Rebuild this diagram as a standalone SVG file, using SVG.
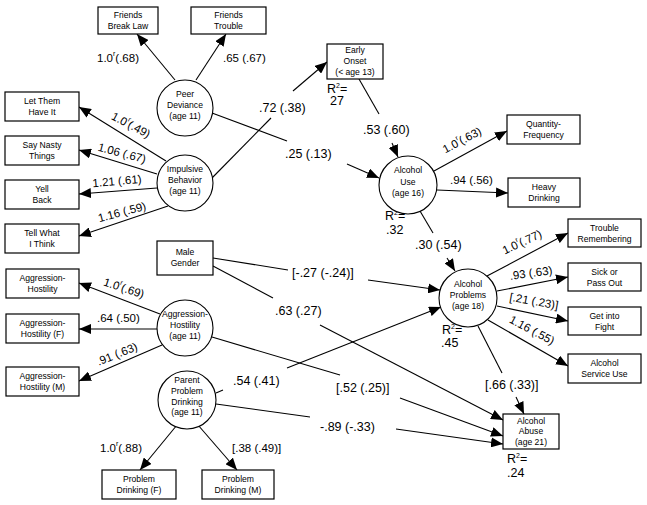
<svg xmlns="http://www.w3.org/2000/svg" width="647" height="505" viewBox="0 0 647 505">
<defs>
<style>
.box{fill:#fff;stroke:#000;stroke-width:1.2}
.lat{fill:#fff;stroke:#000;stroke-width:1.1}
.nt{font-family:"Liberation Sans",Arial,sans-serif;font-size:8.6px;text-anchor:middle;fill:#000}
.lb{font-family:"Liberation Sans",Arial,sans-serif;font-size:12.5px;fill:#000}
.ld{font-family:"Liberation Sans",Arial,sans-serif;font-size:11.5px;fill:#000}
.c{text-anchor:middle}
.cn path{fill:none;stroke:#000;stroke-width:1.1}
.cn path.a{marker-end:url(#ah)}
</style>
<marker id="ah" markerWidth="12" markerHeight="10" refX="12" refY="5" orient="auto" markerUnits="userSpaceOnUse">
<path d="M0,0 L12,5 L0,10 z" fill="#000"/>
</marker>
</defs>
<rect width="647" height="505" fill="#fff"/>

<g id="connectors" class="cn">
<path class="a" d="M175,80 L137,34"/>
<path class="a" d="M196,80 L226,34"/>
<path d="M212,113 L287,141"/>
<path class="a" d="M347,164 L379,178"/>
<path d="M212,178 L271,118"/>
<path class="a" d="M293,91 L327,62"/>
<path class="a" d="M166,161 L79,107"/>
<path class="a" d="M157,174 L79,150"/>
<path class="a" d="M157,188 L79,194"/>
<path class="a" d="M168,206 L79,236"/>
<path d="M359,79 L379,114"/>
<path class="a" d="M392,143 L398,157"/>
<path class="a" d="M434,171 L507,131"/>
<path class="a" d="M437,190 L508,193"/>
<path d="M420,211 L433,233"/>
<path class="a" d="M447,258 L455,271"/>
<path class="a" d="M487,276 L568,233"/>
<path class="a" d="M497,291 L568,277"/>
<path class="a" d="M497,306 L568,321"/>
<path class="a" d="M488,320 L568,366"/>
<path d="M478,326 L502,373"/>
<path class="a" d="M516,397 L524,414"/>
<path d="M213,258 L288,270"/>
<path class="a" d="M368,280 L440,290"/>
<path d="M213,266 L273,298"/>
<path class="a" d="M320,325 L503,420"/>
<path class="a" d="M160,314 L79,283"/>
<path class="a" d="M157,329 L79,329"/>
<path class="a" d="M162,345 L79,381"/>
<path d="M212,337 L340,375"/>
<path class="a" d="M400,398 L503,436"/>
<path d="M216,393 L223,390"/>
<path class="a" d="M287,368 L441,307"/>
<path d="M216,404 L310,417"/>
<path class="a" d="M396,429 L503,444"/>
<path class="a" d="M177,425 L140,470"/>
<path class="a" d="M198,425 L237,470"/>
</g>

<g id="labels">
<text class="ld" x="97" y="62">1.0<tspan font-size="7" dy="-6">r</tspan><tspan dy="6">(.68)</tspan></text>
<text class="ld" x="223" y="62">.65 (.67)</text>
<text class="ld c" transform="translate(131,125) rotate(28)" y="4">1.0<tspan font-size="7" dy="-6">r</tspan><tspan dy="6">(.49)</tspan></text>
<text class="ld c" transform="translate(122,153) rotate(15)" y="4">1.06 (.67)</text>
<text class="ld c" transform="translate(117,181) rotate(-5)" y="4">1.21 (.61)</text>
<text class="ld c" transform="translate(122,212) rotate(-15)" y="4">1.16 (.59)</text>
<text class="ld c" transform="translate(124,288) rotate(18)" y="4">1.0<tspan font-size="7" dy="-6">r</tspan><tspan dy="6">(.69)</tspan></text>
<text class="ld" x="97" y="322">.64 (.50)</text>
<text class="ld c" transform="translate(117,354) rotate(-22)" y="4">.91 (.63)</text>
<text class="ld" x="100" y="452">1.0<tspan font-size="7" dy="-6">r</tspan><tspan dy="6">(.88)</tspan></text>
<text class="ld" x="232" y="452">[.38 (.49)]</text>
<text class="ld c" transform="translate(462,140) rotate(-28)" y="4">1.0<tspan font-size="7" dy="-6">r</tspan><tspan dy="6">(.63)</tspan></text>
<text class="ld" x="450" y="184">.94 (.56)</text>
<text class="ld c" transform="translate(522,242) rotate(-25)" y="4">1.0<tspan font-size="7" dy="-6">r</tspan><tspan dy="6">(.77)</tspan></text>
<text class="ld c" transform="translate(531,273) rotate(-8)" y="4">.93 (.63)</text>
<text class="ld c" transform="translate(534,301) rotate(10)" y="4">[.21 (.23)]</text>
<text class="ld c" transform="translate(532,330) rotate(28)" y="4">1.16 (.55)</text>
<text class="lb" x="259" y="112">.72 (.38)</text>
<text class="lb" x="285" y="158">.25 (.13)</text>
<text class="lb" x="363" y="134">.53 (.60)</text>
<text class="lb" x="415" y="249">.30 (.54)</text>
<text class="lb" x="292" y="277">[-.27 (-.24)]</text>
<text class="lb" x="275" y="315">.63 (.27)</text>
<text class="lb" x="233" y="385">.54 (.41)</text>
<text class="lb" x="336" y="392">[.52 (.25)]</text>
<text class="lb" x="320" y="431">-.89 (-.33)</text>
<text class="lb" x="485" y="389">[.66 (.33)]</text>
<text class="lb" x="327" y="93">R<tspan font-size="7" dy="-5">2</tspan><tspan dy="5">=</tspan></text>
<text class="lb" x="330" y="105">27</text>
<text class="lb" x="385" y="220">R<tspan font-size="7" dy="-5">2</tspan><tspan dy="5">=</tspan></text>
<text class="lb" x="386" y="234">.32</text>
<text class="lb" x="442" y="334">R<tspan font-size="7" dy="-5">2</tspan><tspan dy="5">=</tspan></text>
<text class="lb" x="441" y="347">.45</text>
<text class="lb" x="507" y="463">R<tspan font-size="7" dy="-5">2</tspan><tspan dy="5">=</tspan></text>
<text class="lb" x="507" y="477">.24</text>
</g>

<g id="friends-break-law"><rect class="box" x="98" y="7" width="60" height="27"/><text class="nt" x="128" y="18">Friends</text><text class="nt" x="128" y="28.5">Break Law</text></g>
<g id="friends-trouble"><rect class="box" x="191" y="7" width="75" height="27"/><text class="nt" x="228.5" y="18">Friends</text><text class="nt" x="228.5" y="28.5">Trouble</text></g>
<g id="peer-deviance"><circle class="lat" cx="185" cy="108" r="28"/><text class="nt" x="185" y="97">Peer</text><text class="nt" x="185" y="108">Deviance</text><text class="nt" x="185" y="119">(age 11)</text></g>
<g id="let-them-have-it"><rect class="box" x="5" y="92" width="74" height="29"/><text class="nt" x="42" y="104">Let Them</text><text class="nt" x="42" y="115">Have It</text></g>
<g id="say-nasty-things"><rect class="box" x="5" y="136" width="74" height="29"/><text class="nt" x="42" y="148">Say Nasty</text><text class="nt" x="42" y="159">Things</text></g>
<g id="yell-back"><rect class="box" x="5" y="180" width="74" height="29"/><text class="nt" x="42" y="192">Yell</text><text class="nt" x="42" y="203">Back</text></g>
<g id="tell-what-i-think"><rect class="box" x="5" y="224" width="74" height="29"/><text class="nt" x="42" y="236">Tell What</text><text class="nt" x="42" y="247">I Think</text></g>
<g id="impulsive-behavior"><circle class="lat" cx="185" cy="183" r="28"/><text class="nt" x="185" y="172">Impulsive</text><text class="nt" x="185" y="183">Behavior</text><text class="nt" x="185" y="194">(age 11)</text></g>
<g id="early-onset"><rect class="box" x="327" y="44" width="56" height="35"/><text class="nt" x="355" y="53">Early</text><text class="nt" x="355" y="64">Onset</text><text class="nt" x="355" y="75">(&lt; age 13)</text></g>
<g id="alcohol-use"><circle class="lat" cx="408" cy="185" r="29"/><text class="nt" x="408" y="173">Alcohol</text><text class="nt" x="408" y="185">Use</text><text class="nt" x="408" y="196">(age 16)</text></g>
<g id="quantity-frequency"><rect class="box" x="507" y="115" width="73" height="29"/><text class="nt" x="543.5" y="127">Quantity-</text><text class="nt" x="543.5" y="138">Frequency</text></g>
<g id="heavy-drinking"><rect class="box" x="508" y="178" width="72" height="29"/><text class="nt" x="544" y="190">Heavy</text><text class="nt" x="544" y="201">Drinking</text></g>
<g id="male-gender"><rect class="box" x="157" y="241" width="56" height="34"/><text class="nt" x="185" y="255">Male</text><text class="nt" x="185" y="265.5">Gender</text></g>
<g id="alcohol-problems"><circle class="lat" cx="468" cy="298" r="29"/><text class="nt" x="468" y="287">Alcohol</text><text class="nt" x="468" y="298">Problems</text><text class="nt" x="468" y="309">(age 18)</text></g>
<g id="trouble-remembering"><rect class="box" x="568" y="219" width="73" height="28"/><text class="nt" x="604.5" y="230.5">Trouble</text><text class="nt" x="604.5" y="241.5">Remembering</text></g>
<g id="sick-or-pass-out"><rect class="box" x="568" y="263" width="73" height="28"/><text class="nt" x="604.5" y="274.5">Sick or</text><text class="nt" x="604.5" y="285.5">Pass Out</text></g>
<g id="get-into-fight"><rect class="box" x="568" y="307" width="73" height="28"/><text class="nt" x="604.5" y="318.5">Get into</text><text class="nt" x="604.5" y="329.5">Fight</text></g>
<g id="alcohol-service-use"><rect class="box" x="568" y="354" width="73" height="29"/><text class="nt" x="604.5" y="366">Alcohol</text><text class="nt" x="604.5" y="377">Service Use</text></g>
<g id="aggression-hostility-box"><rect class="box" x="6" y="269" width="73" height="29"/><text class="nt" x="42.5" y="281">Aggression-</text><text class="nt" x="42.5" y="292">Hostility</text></g>
<g id="aggression-hostility-f"><rect class="box" x="6" y="314" width="73" height="29"/><text class="nt" x="42.5" y="326">Aggression-</text><text class="nt" x="42.5" y="337">Hostility (F)</text></g>
<g id="aggression-hostility-m"><rect class="box" x="6" y="367" width="73" height="29"/><text class="nt" x="42.5" y="379">Aggression-</text><text class="nt" x="42.5" y="390">Hostility (M)</text></g>
<g id="aggression-hostility"><circle class="lat" cx="185" cy="328" r="28"/><text class="nt" x="185" y="317">Aggression-</text><text class="nt" x="185" y="328">Hostility</text><text class="nt" x="185" y="339">(age 11)</text></g>
<g id="parent-problem-drinking"><circle class="lat" cx="187" cy="400" r="29"/><text class="nt" x="187" y="383">Parent</text><text class="nt" x="187" y="394">Problem</text><text class="nt" x="187" y="404.5">Drinking</text><text class="nt" x="187" y="415">(age 11)</text></g>
<g id="problem-drinking-f"><rect class="box" x="102" y="470" width="74" height="29"/><text class="nt" x="139" y="482">Problem</text><text class="nt" x="139" y="493">Drinking (F)</text></g>
<g id="problem-drinking-m"><rect class="box" x="202" y="470" width="72" height="29"/><text class="nt" x="238" y="482">Problem</text><text class="nt" x="238" y="493">Drinking (M)</text></g>
<g id="alcohol-abuse"><rect class="box" x="503" y="414" width="56" height="35"/><text class="nt" x="531" y="423.5">Alcohol</text><text class="nt" x="531" y="434">Abuse</text><text class="nt" x="531" y="445">(age 21)</text></g>
</svg>
